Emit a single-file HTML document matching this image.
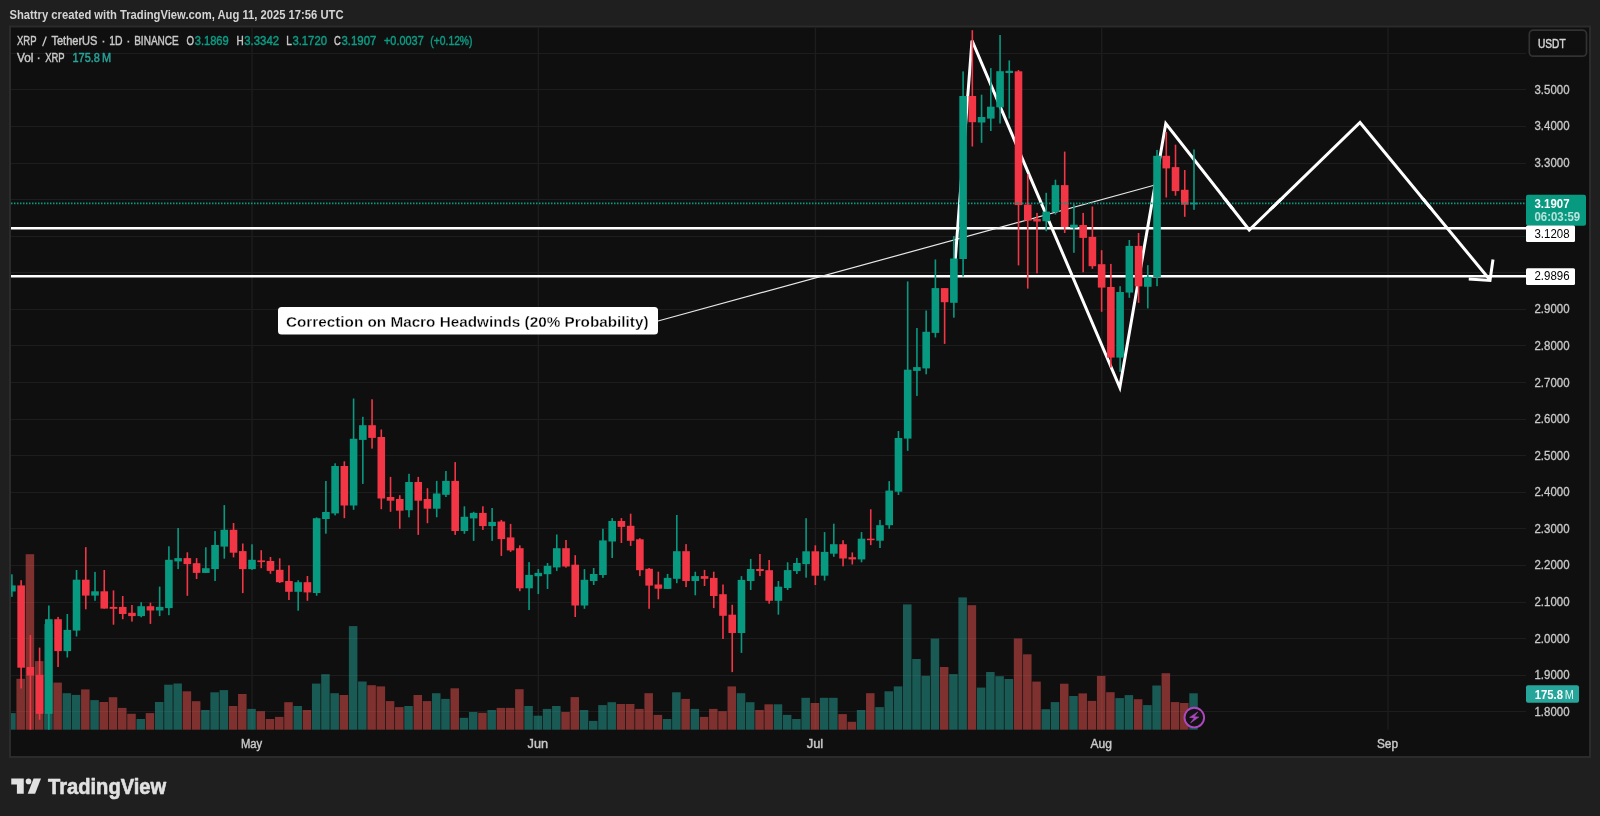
<!DOCTYPE html>
<html><head><meta charset="utf-8"><title>XRP / TetherUS chart</title>
<style>html,body{margin:0;padding:0;background:#1f1f1f;overflow:hidden}body{width:1600px;height:816px;position:relative;font-family:"Liberation Sans",sans-serif}</style></head>
<body>
<svg width="1600" height="816" viewBox="0 0 1600 816" style="position:absolute;left:0;top:0;display:block;filter:blur(0.35px)" font-family="Liberation Sans, sans-serif">
<defs><clipPath id="pane"><rect x="11" y="27.5" width="1515" height="702.2"/></clipPath></defs>
<rect x="0" y="0" width="1600" height="816" fill="#1f1f1f"/>
<rect x="9" y="25.5" width="1582" height="732.5" fill="#2b2b2b"/>
<rect x="11" y="27.5" width="1578" height="728.5" fill="#0f0f0f"/>
<g fill="#1d1d1d"><rect x="11" y="53" width="1515" height="1"/><rect x="11" y="89" width="1515" height="1"/><rect x="11" y="126" width="1515" height="1"/><rect x="11" y="163" width="1515" height="1"/><rect x="11" y="199" width="1515" height="1"/><rect x="11" y="236" width="1515" height="1"/><rect x="11" y="272" width="1515" height="1"/><rect x="11" y="309" width="1515" height="1"/><rect x="11" y="345" width="1515" height="1"/><rect x="11" y="382" width="1515" height="1"/><rect x="11" y="419" width="1515" height="1"/><rect x="11" y="455" width="1515" height="1"/><rect x="11" y="492" width="1515" height="1"/><rect x="11" y="528" width="1515" height="1"/><rect x="11" y="565" width="1515" height="1"/><rect x="11" y="602" width="1515" height="1"/><rect x="11" y="638" width="1515" height="1"/><rect x="11" y="675" width="1515" height="1"/><rect x="11" y="711" width="1515" height="1"/><rect x="251.41" y="27.5" width="1.4" height="702.2"/><rect x="537.69" y="27.5" width="1.4" height="702.2"/><rect x="814.74" y="27.5" width="1.4" height="702.2"/><rect x="1101.03" y="27.5" width="1.4" height="702.2"/><rect x="1387.31" y="27.5" width="1.4" height="702.2"/></g>
<g fill="rgba(38,166,154,0.5)"><rect x="11.00" y="713.1" width="4.70" height="16.6"/><rect x="44.14" y="624.0" width="8.50" height="105.7"/><rect x="62.61" y="693.2" width="8.50" height="36.5"/><rect x="71.84" y="694.9" width="8.50" height="34.8"/><rect x="90.31" y="700.1" width="8.50" height="29.6"/><rect x="136.49" y="719.0" width="8.50" height="10.7"/><rect x="154.96" y="702.0" width="8.50" height="27.7"/><rect x="164.19" y="684.7" width="8.50" height="45.0"/><rect x="173.43" y="683.5" width="8.50" height="46.2"/><rect x="201.13" y="710.0" width="8.50" height="19.7"/><rect x="210.37" y="692.3" width="8.50" height="37.4"/><rect x="219.60" y="690.1" width="8.50" height="39.6"/><rect x="247.31" y="708.9" width="8.50" height="20.8"/><rect x="293.48" y="706.0" width="8.50" height="23.7"/><rect x="311.95" y="683.6" width="8.50" height="46.1"/><rect x="321.19" y="674.2" width="8.50" height="55.5"/><rect x="330.42" y="693.2" width="8.50" height="36.5"/><rect x="348.89" y="626.1" width="8.50" height="103.6"/><rect x="358.13" y="681.5" width="8.50" height="48.2"/><rect x="404.30" y="706.0" width="8.50" height="23.7"/><rect x="432.01" y="693.2" width="8.50" height="36.5"/><rect x="441.24" y="698.9" width="8.50" height="30.8"/><rect x="459.71" y="717.8" width="8.50" height="11.9"/><rect x="468.95" y="712.0" width="8.50" height="17.7"/><rect x="487.42" y="710.0" width="8.50" height="19.7"/><rect x="524.36" y="706.0" width="8.50" height="23.7"/><rect x="533.60" y="715.7" width="8.50" height="14.0"/><rect x="542.83" y="708.9" width="8.50" height="20.8"/><rect x="552.07" y="706.0" width="8.50" height="23.7"/><rect x="579.77" y="710.0" width="8.50" height="19.7"/><rect x="589.00" y="720.9" width="8.50" height="8.8"/><rect x="598.24" y="705.1" width="8.50" height="24.6"/><rect x="607.48" y="702.2" width="8.50" height="27.5"/><rect x="662.88" y="719.0" width="8.50" height="10.7"/><rect x="672.12" y="692.3" width="8.50" height="37.4"/><rect x="690.59" y="708.9" width="8.50" height="20.8"/><rect x="736.76" y="693.2" width="8.50" height="36.5"/><rect x="746.00" y="702.2" width="8.50" height="27.5"/><rect x="773.71" y="704.3" width="8.50" height="25.4"/><rect x="782.94" y="714.9" width="8.50" height="14.8"/><rect x="792.17" y="719.0" width="8.50" height="10.7"/><rect x="801.41" y="697.8" width="8.50" height="31.9"/><rect x="819.88" y="697.8" width="8.50" height="31.9"/><rect x="829.12" y="697.8" width="8.50" height="31.9"/><rect x="856.82" y="710.0" width="8.50" height="19.7"/><rect x="875.29" y="707.1" width="8.50" height="22.6"/><rect x="884.52" y="691.3" width="8.50" height="38.4"/><rect x="893.76" y="686.4" width="8.50" height="43.3"/><rect x="903.00" y="604.4" width="8.50" height="125.3"/><rect x="912.23" y="659.0" width="8.50" height="70.7"/><rect x="921.47" y="675.8" width="8.50" height="53.9"/><rect x="930.70" y="638.6" width="8.50" height="91.1"/><rect x="949.17" y="674.1" width="8.50" height="55.6"/><rect x="958.40" y="597.4" width="8.50" height="132.3"/><rect x="976.88" y="687.6" width="8.50" height="42.1"/><rect x="986.11" y="672.0" width="8.50" height="57.7"/><rect x="995.35" y="676.2" width="8.50" height="53.5"/><rect x="1004.58" y="679.0" width="8.50" height="50.7"/><rect x="1041.52" y="709.2" width="8.50" height="20.5"/><rect x="1050.75" y="702.1" width="8.50" height="27.6"/><rect x="1069.22" y="696.0" width="8.50" height="33.7"/><rect x="1115.40" y="698.1" width="8.50" height="31.6"/><rect x="1124.63" y="695.1" width="8.50" height="34.6"/><rect x="1143.11" y="705.1" width="8.50" height="24.6"/><rect x="1152.34" y="685.5" width="8.50" height="44.2"/><rect x="1189.28" y="693.3" width="8.50" height="36.4"/></g>
<g fill="rgba(239,83,80,0.5)"><rect x="16.43" y="678.8" width="8.50" height="50.9"/><rect x="25.67" y="554.2" width="8.50" height="175.5"/><rect x="34.91" y="661.1" width="8.50" height="68.6"/><rect x="53.38" y="682.6" width="8.50" height="47.1"/><rect x="81.08" y="689.4" width="8.50" height="40.3"/><rect x="99.55" y="702.0" width="8.50" height="27.7"/><rect x="108.78" y="697.2" width="8.50" height="32.5"/><rect x="118.02" y="707.9" width="8.50" height="21.8"/><rect x="127.26" y="713.8" width="8.50" height="15.9"/><rect x="145.72" y="713.1" width="8.50" height="16.6"/><rect x="182.66" y="691.3" width="8.50" height="38.4"/><rect x="191.90" y="701.2" width="8.50" height="28.5"/><rect x="228.84" y="706.0" width="8.50" height="23.7"/><rect x="238.07" y="694.0" width="8.50" height="35.7"/><rect x="256.54" y="711.2" width="8.50" height="18.5"/><rect x="265.78" y="719.0" width="8.50" height="10.7"/><rect x="275.01" y="716.9" width="8.50" height="12.8"/><rect x="284.25" y="702.2" width="8.50" height="27.5"/><rect x="302.72" y="710.0" width="8.50" height="19.7"/><rect x="339.66" y="695.0" width="8.50" height="34.7"/><rect x="367.36" y="685.2" width="8.50" height="44.5"/><rect x="376.60" y="686.4" width="8.50" height="43.3"/><rect x="385.83" y="701.1" width="8.50" height="28.6"/><rect x="395.07" y="707.1" width="8.50" height="22.6"/><rect x="413.54" y="695.0" width="8.50" height="34.7"/><rect x="422.77" y="701.1" width="8.50" height="28.6"/><rect x="450.48" y="688.3" width="8.50" height="41.4"/><rect x="478.18" y="712.8" width="8.50" height="16.9"/><rect x="496.65" y="707.9" width="8.50" height="21.8"/><rect x="505.89" y="707.9" width="8.50" height="21.8"/><rect x="515.12" y="689.2" width="8.50" height="40.5"/><rect x="561.30" y="712.0" width="8.50" height="17.7"/><rect x="570.53" y="697.1" width="8.50" height="32.6"/><rect x="616.71" y="704.0" width="8.50" height="25.7"/><rect x="625.95" y="704.0" width="8.50" height="25.7"/><rect x="635.18" y="708.9" width="8.50" height="20.8"/><rect x="644.41" y="693.2" width="8.50" height="36.5"/><rect x="653.65" y="714.9" width="8.50" height="14.8"/><rect x="681.36" y="698.9" width="8.50" height="30.8"/><rect x="699.83" y="716.9" width="8.50" height="12.8"/><rect x="709.06" y="708.9" width="8.50" height="20.8"/><rect x="718.29" y="711.2" width="8.50" height="18.5"/><rect x="727.53" y="686.4" width="8.50" height="43.3"/><rect x="755.24" y="710.0" width="8.50" height="19.7"/><rect x="764.47" y="704.3" width="8.50" height="25.4"/><rect x="810.64" y="703.0" width="8.50" height="26.7"/><rect x="838.35" y="714.1" width="8.50" height="15.6"/><rect x="847.59" y="721.8" width="8.50" height="7.9"/><rect x="866.05" y="693.2" width="8.50" height="36.5"/><rect x="939.93" y="667.0" width="8.50" height="62.7"/><rect x="967.64" y="605.2" width="8.50" height="124.5"/><rect x="1013.81" y="638.5" width="8.50" height="91.2"/><rect x="1023.05" y="654.3" width="8.50" height="75.4"/><rect x="1032.29" y="681.6" width="8.50" height="48.1"/><rect x="1059.99" y="683.7" width="8.50" height="46.0"/><rect x="1078.46" y="693.4" width="8.50" height="36.3"/><rect x="1087.69" y="700.9" width="8.50" height="28.8"/><rect x="1096.93" y="675.9" width="8.50" height="53.8"/><rect x="1106.16" y="692.2" width="8.50" height="37.5"/><rect x="1133.87" y="699.2" width="8.50" height="30.5"/><rect x="1161.58" y="673.2" width="8.50" height="56.5"/><rect x="1170.81" y="702.1" width="8.50" height="27.6"/><rect x="1180.05" y="703.0" width="8.50" height="26.7"/></g>
<g stroke="#ffffff" fill="none" stroke-linecap="butt">
<line x1="11" y1="228.25" x2="1526" y2="228.25" stroke-width="2.5"/>
<line x1="11" y1="276.25" x2="1526" y2="276.25" stroke-width="2.5"/>
<line x1="658" y1="321" x2="1155" y2="185" stroke-width="1.2" stroke="#e8e8e8"/>
<polyline points="954,276 972,40.5 1119.8,387.5 1165.8,123.5 1249.25,230 1360,122.5 1490,280" stroke-width="3" stroke-linejoin="miter"/>
<polyline points="1493,259.5 1490,280.5 1468.75,279" stroke-width="3" stroke-linejoin="miter"/>
</g>
<g clip-path="url(#pane)"><g fill="#f23645"><rect x="20.33" y="580.2" width="1.6" height="108.3"/><rect x="29.57" y="635.0" width="1.6" height="95.0"/><rect x="38.80" y="647.6" width="1.6" height="72.1"/><rect x="57.27" y="616.9" width="1.6" height="50.1"/><rect x="84.98" y="547.1" width="1.6" height="62.2"/><rect x="103.45" y="570.0" width="1.6" height="38.6"/><rect x="112.69" y="590.4" width="1.6" height="34.3"/><rect x="121.92" y="596.0" width="1.6" height="23.2"/><rect x="131.16" y="605.0" width="1.6" height="16.6"/><rect x="149.62" y="602.7" width="1.6" height="21.2"/><rect x="186.56" y="552.3" width="1.6" height="43.5"/><rect x="195.80" y="558.1" width="1.6" height="20.9"/><rect x="232.74" y="523.0" width="1.6" height="34.4"/><rect x="241.97" y="543.5" width="1.6" height="49.6"/><rect x="260.44" y="550.2" width="1.6" height="18.0"/><rect x="269.68" y="557.0" width="1.6" height="16.8"/><rect x="278.91" y="558.3" width="1.6" height="24.7"/><rect x="288.15" y="565.3" width="1.6" height="34.7"/><rect x="306.62" y="576.0" width="1.6" height="24.8"/><rect x="343.56" y="461.3" width="1.6" height="56.9"/><rect x="371.26" y="399.3" width="1.6" height="49.3"/><rect x="380.50" y="429.5" width="1.6" height="79.7"/><rect x="389.73" y="476.9" width="1.6" height="34.9"/><rect x="398.97" y="495.2" width="1.6" height="33.6"/><rect x="417.44" y="476.9" width="1.6" height="58.0"/><rect x="426.67" y="488.2" width="1.6" height="35.0"/><rect x="454.38" y="462.1" width="1.6" height="72.8"/><rect x="482.08" y="506.3" width="1.6" height="23.6"/><rect x="500.55" y="519.9" width="1.6" height="36.0"/><rect x="509.79" y="523.9" width="1.6" height="28.0"/><rect x="519.02" y="545.3" width="1.6" height="45.9"/><rect x="565.20" y="540.0" width="1.6" height="27.6"/><rect x="574.43" y="555.2" width="1.6" height="61.8"/><rect x="620.61" y="518.1" width="1.6" height="24.9"/><rect x="629.85" y="513.7" width="1.6" height="32.2"/><rect x="639.08" y="538.2" width="1.6" height="37.9"/><rect x="648.31" y="568.0" width="1.6" height="40.8"/><rect x="657.55" y="571.7" width="1.6" height="27.6"/><rect x="685.25" y="544.1" width="1.6" height="43.0"/><rect x="703.73" y="569.9" width="1.6" height="16.1"/><rect x="712.96" y="571.7" width="1.6" height="36.4"/><rect x="722.19" y="584.5" width="1.6" height="54.5"/><rect x="731.43" y="604.8" width="1.6" height="67.3"/><rect x="759.13" y="554.0" width="1.6" height="22.1"/><rect x="768.37" y="560.0" width="1.6" height="43.7"/><rect x="814.54" y="545.3" width="1.6" height="39.7"/><rect x="842.25" y="540.2" width="1.6" height="26.1"/><rect x="851.49" y="552.4" width="1.6" height="12.1"/><rect x="869.95" y="509.3" width="1.6" height="35.8"/><rect x="943.83" y="288.1" width="1.6" height="55.8"/><rect x="971.54" y="30.2" width="1.6" height="116.3"/><rect x="1017.71" y="70.0" width="1.6" height="195.4"/><rect x="1026.95" y="174.3" width="1.6" height="114.3"/><rect x="1036.19" y="212.9" width="1.6" height="60.4"/><rect x="1063.89" y="151.6" width="1.6" height="81.4"/><rect x="1082.36" y="212.9" width="1.6" height="59.4"/><rect x="1091.60" y="206.5" width="1.6" height="62.3"/><rect x="1100.83" y="250.2" width="1.6" height="61.6"/><rect x="1110.07" y="263.9" width="1.6" height="103.6"/><rect x="1137.77" y="233.0" width="1.6" height="69.8"/><rect x="1165.48" y="131.9" width="1.6" height="65.6"/><rect x="1174.71" y="144.7" width="1.6" height="51.0"/><rect x="1183.95" y="170.0" width="1.6" height="46.8"/><rect x="17.33" y="585.4" width="7.60" height="82.3"/><rect x="26.57" y="667.0" width="7.60" height="8.5"/><rect x="35.80" y="674.8" width="7.60" height="39.0"/><rect x="54.27" y="619.2" width="7.60" height="31.9"/><rect x="81.98" y="579.7" width="7.60" height="15.9"/><rect x="100.45" y="591.3" width="7.60" height="17.3"/><rect x="109.69" y="606.9" width="7.60" height="1.9"/><rect x="118.92" y="606.9" width="7.60" height="7.1"/><rect x="128.16" y="612.8" width="7.60" height="3.3"/><rect x="146.62" y="606.2" width="7.60" height="4.3"/><rect x="183.56" y="558.1" width="7.60" height="6.0"/><rect x="192.80" y="563.2" width="7.60" height="9.7"/><rect x="229.74" y="529.8" width="7.60" height="22.9"/><rect x="238.97" y="551.1" width="7.60" height="18.0"/><rect x="257.44" y="560.4" width="7.60" height="1.7"/><rect x="266.68" y="561.0" width="7.60" height="9.9"/><rect x="275.91" y="569.8" width="7.60" height="12.4"/><rect x="285.15" y="581.0" width="7.60" height="10.8"/><rect x="303.62" y="582.2" width="7.60" height="10.2"/><rect x="340.56" y="466.0" width="7.60" height="39.5"/><rect x="368.26" y="425.2" width="7.60" height="12.7"/><rect x="377.50" y="437.0" width="7.60" height="61.5"/><rect x="386.73" y="497.0" width="7.60" height="3.7"/><rect x="395.97" y="499.0" width="7.60" height="11.7"/><rect x="414.44" y="482.0" width="7.60" height="18.7"/><rect x="423.67" y="499.0" width="7.60" height="9.7"/><rect x="451.38" y="480.9" width="7.60" height="50.1"/><rect x="479.08" y="512.9" width="7.60" height="13.2"/><rect x="497.55" y="521.5" width="7.60" height="17.6"/><rect x="506.79" y="537.4" width="7.60" height="13.0"/><rect x="516.02" y="548.2" width="7.60" height="40.1"/><rect x="562.20" y="548.2" width="7.60" height="18.3"/><rect x="571.43" y="564.7" width="7.60" height="40.8"/><rect x="617.61" y="521.0" width="7.60" height="5.9"/><rect x="626.85" y="525.8" width="7.60" height="15.0"/><rect x="636.08" y="539.3" width="7.60" height="30.9"/><rect x="645.31" y="568.8" width="7.60" height="16.8"/><rect x="654.55" y="584.5" width="7.60" height="4.2"/><rect x="682.25" y="551.2" width="7.60" height="29.8"/><rect x="700.73" y="576.1" width="7.60" height="2.7"/><rect x="709.96" y="577.9" width="7.60" height="18.1"/><rect x="719.19" y="594.2" width="7.60" height="21.6"/><rect x="728.43" y="614.7" width="7.60" height="18.3"/><rect x="756.13" y="569.0" width="7.60" height="2.0"/><rect x="765.37" y="570.2" width="7.60" height="30.6"/><rect x="811.54" y="551.3" width="7.60" height="24.4"/><rect x="839.25" y="544.2" width="7.60" height="14.3"/><rect x="848.49" y="557.2" width="7.60" height="2.2"/><rect x="866.95" y="538.7" width="7.60" height="1.5"/><rect x="940.83" y="288.1" width="7.60" height="14.1"/><rect x="968.54" y="96.0" width="7.60" height="26.2"/><rect x="1014.71" y="71.3" width="7.60" height="133.8"/><rect x="1023.95" y="204.6" width="7.60" height="16.0"/><rect x="1033.19" y="219.0" width="7.60" height="2.5"/><rect x="1060.89" y="185.1" width="7.60" height="41.9"/><rect x="1079.36" y="225.0" width="7.60" height="12.9"/><rect x="1088.60" y="236.9" width="7.60" height="29.3"/><rect x="1097.83" y="264.2" width="7.60" height="23.4"/><rect x="1107.07" y="287.0" width="7.60" height="70.6"/><rect x="1134.77" y="245.9" width="7.60" height="40.5"/><rect x="1162.48" y="155.8" width="7.60" height="12.6"/><rect x="1171.71" y="167.1" width="7.60" height="24.0"/><rect x="1180.95" y="189.8" width="7.60" height="14.9"/></g><g fill="#089981"><rect x="11.10" y="574.3" width="1.6" height="22.5"/><rect x="48.04" y="605.5" width="1.6" height="124.5"/><rect x="66.51" y="614.0" width="1.6" height="43.5"/><rect x="75.75" y="570.0" width="1.6" height="66.5"/><rect x="94.22" y="571.9" width="1.6" height="28.9"/><rect x="140.39" y="602.2" width="1.6" height="15.1"/><rect x="158.86" y="586.6" width="1.6" height="29.5"/><rect x="168.09" y="546.3" width="1.6" height="68.9"/><rect x="177.33" y="528.0" width="1.6" height="41.1"/><rect x="205.03" y="547.3" width="1.6" height="25.6"/><rect x="214.27" y="531.1" width="1.6" height="49.9"/><rect x="223.50" y="505.1" width="1.6" height="53.6"/><rect x="251.21" y="544.3" width="1.6" height="25.6"/><rect x="297.38" y="580.3" width="1.6" height="30.4"/><rect x="315.85" y="517.4" width="1.6" height="78.3"/><rect x="325.09" y="481.0" width="1.6" height="52.7"/><rect x="334.32" y="463.3" width="1.6" height="52.1"/><rect x="352.79" y="398.5" width="1.6" height="111.3"/><rect x="362.03" y="416.8" width="1.6" height="67.1"/><rect x="408.20" y="473.8" width="1.6" height="43.5"/><rect x="435.91" y="480.9" width="1.6" height="36.4"/><rect x="445.14" y="471.0" width="1.6" height="26.0"/><rect x="463.61" y="506.3" width="1.6" height="27.5"/><rect x="472.85" y="511.8" width="1.6" height="29.1"/><rect x="491.32" y="508.0" width="1.6" height="32.9"/><rect x="528.26" y="562.1" width="1.6" height="47.9"/><rect x="537.50" y="569.1" width="1.6" height="25.0"/><rect x="546.73" y="563.0" width="1.6" height="26.0"/><rect x="555.97" y="534.5" width="1.6" height="36.4"/><rect x="583.67" y="569.1" width="1.6" height="39.7"/><rect x="592.90" y="568.0" width="1.6" height="17.0"/><rect x="602.14" y="528.7" width="1.6" height="49.2"/><rect x="611.38" y="518.1" width="1.6" height="39.9"/><rect x="666.78" y="573.9" width="1.6" height="15.0"/><rect x="676.02" y="515.0" width="1.6" height="68.2"/><rect x="694.49" y="571.7" width="1.6" height="23.6"/><rect x="740.66" y="576.1" width="1.6" height="76.8"/><rect x="749.90" y="558.9" width="1.6" height="31.1"/><rect x="777.61" y="581.0" width="1.6" height="33.7"/><rect x="786.84" y="562.3" width="1.6" height="27.7"/><rect x="796.07" y="557.9" width="1.6" height="16.1"/><rect x="805.31" y="518.2" width="1.6" height="59.5"/><rect x="823.78" y="532.1" width="1.6" height="48.5"/><rect x="833.01" y="523.7" width="1.6" height="33.1"/><rect x="860.72" y="532.1" width="1.6" height="30.2"/><rect x="879.19" y="519.9" width="1.6" height="28.1"/><rect x="888.42" y="481.1" width="1.6" height="47.7"/><rect x="897.66" y="431.0" width="1.6" height="64.0"/><rect x="906.89" y="281.4" width="1.6" height="169.4"/><rect x="916.13" y="328.0" width="1.6" height="67.9"/><rect x="925.37" y="310.5" width="1.6" height="63.8"/><rect x="934.60" y="259.5" width="1.6" height="78.0"/><rect x="953.07" y="236.0" width="1.6" height="81.7"/><rect x="962.30" y="71.4" width="1.6" height="205.1"/><rect x="980.77" y="94.7" width="1.6" height="48.1"/><rect x="990.01" y="68.1" width="1.6" height="62.9"/><rect x="999.25" y="35.0" width="1.6" height="88.5"/><rect x="1008.48" y="60.4" width="1.6" height="58.2"/><rect x="1045.42" y="192.8" width="1.6" height="38.4"/><rect x="1054.65" y="179.7" width="1.6" height="34.8"/><rect x="1073.12" y="204.2" width="1.6" height="48.6"/><rect x="1119.30" y="286.2" width="1.6" height="85.6"/><rect x="1128.54" y="240.0" width="1.6" height="57.8"/><rect x="1147.01" y="265.2" width="1.6" height="43.2"/><rect x="1156.24" y="149.9" width="1.6" height="136.3"/><rect x="1193.18" y="149.4" width="1.6" height="60.4"/><rect x="11.00" y="585.4" width="4.70" height="6.1"/><rect x="45.04" y="619.2" width="7.60" height="94.6"/><rect x="63.51" y="629.9" width="7.60" height="21.2"/><rect x="72.75" y="579.7" width="7.60" height="50.9"/><rect x="91.22" y="591.3" width="7.60" height="4.3"/><rect x="137.39" y="606.2" width="7.60" height="9.9"/><rect x="155.86" y="606.9" width="7.60" height="3.6"/><rect x="165.09" y="559.8" width="7.60" height="48.3"/><rect x="174.33" y="558.1" width="7.60" height="3.3"/><rect x="202.03" y="568.2" width="7.60" height="4.7"/><rect x="211.27" y="545.0" width="7.60" height="24.1"/><rect x="220.50" y="529.8" width="7.60" height="16.8"/><rect x="248.21" y="559.8" width="7.60" height="9.3"/><rect x="294.38" y="582.2" width="7.60" height="9.6"/><rect x="312.85" y="518.2" width="7.60" height="74.8"/><rect x="322.09" y="512.0" width="7.60" height="7.0"/><rect x="331.32" y="466.0" width="7.60" height="47.4"/><rect x="349.79" y="438.8" width="7.60" height="66.7"/><rect x="359.03" y="425.2" width="7.60" height="14.7"/><rect x="405.20" y="482.0" width="7.60" height="28.2"/><rect x="432.91" y="493.5" width="7.60" height="15.2"/><rect x="442.14" y="480.9" width="7.60" height="13.9"/><rect x="460.61" y="516.8" width="7.60" height="14.2"/><rect x="469.85" y="512.9" width="7.60" height="5.5"/><rect x="488.32" y="521.9" width="7.60" height="4.2"/><rect x="525.26" y="574.9" width="7.60" height="13.4"/><rect x="534.50" y="572.9" width="7.60" height="3.3"/><rect x="543.73" y="565.8" width="7.60" height="8.4"/><rect x="552.97" y="548.2" width="7.60" height="19.2"/><rect x="580.67" y="579.8" width="7.60" height="25.7"/><rect x="589.90" y="574.0" width="7.60" height="7.0"/><rect x="599.14" y="540.4" width="7.60" height="34.6"/><rect x="608.38" y="521.0" width="7.60" height="20.5"/><rect x="663.78" y="577.9" width="7.60" height="11.0"/><rect x="673.02" y="551.2" width="7.60" height="27.6"/><rect x="691.49" y="576.1" width="7.60" height="4.9"/><rect x="737.66" y="579.9" width="7.60" height="53.1"/><rect x="746.90" y="569.0" width="7.60" height="12.0"/><rect x="774.61" y="586.7" width="7.60" height="14.1"/><rect x="783.84" y="570.1" width="7.60" height="17.9"/><rect x="793.07" y="563.0" width="7.60" height="8.1"/><rect x="802.31" y="551.3" width="7.60" height="12.8"/><rect x="820.78" y="551.9" width="7.60" height="23.8"/><rect x="830.01" y="544.2" width="7.60" height="9.5"/><rect x="857.72" y="538.7" width="7.60" height="20.7"/><rect x="876.19" y="525.2" width="7.60" height="15.5"/><rect x="885.42" y="490.6" width="7.60" height="34.6"/><rect x="894.66" y="438.0" width="7.60" height="53.7"/><rect x="903.89" y="369.7" width="7.60" height="68.9"/><rect x="913.13" y="367.1" width="7.60" height="3.8"/><rect x="922.37" y="331.8" width="7.60" height="36.6"/><rect x="931.60" y="288.1" width="7.60" height="44.8"/><rect x="950.07" y="258.5" width="7.60" height="44.3"/><rect x="959.30" y="96.0" width="7.60" height="163.0"/><rect x="977.77" y="117.0" width="7.60" height="5.5"/><rect x="987.01" y="106.7" width="7.60" height="11.9"/><rect x="996.25" y="71.2" width="7.60" height="36.1"/><rect x="1005.48" y="70.8" width="7.60" height="2.2"/><rect x="1042.42" y="211.6" width="7.60" height="9.6"/><rect x="1051.65" y="185.1" width="7.60" height="26.9"/><rect x="1070.12" y="224.7" width="7.60" height="3.0"/><rect x="1116.30" y="292.0" width="7.60" height="65.6"/><rect x="1125.54" y="245.9" width="7.60" height="46.7"/><rect x="1144.01" y="276.8" width="7.60" height="10.0"/><rect x="1153.24" y="155.8" width="7.60" height="121.3"/><rect x="1190.18" y="202.6" width="7.60" height="1.8"/></g></g>
<line x1="11" y1="203.3" x2="1526" y2="203.3" stroke="#089981" stroke-width="1.8" stroke-dasharray="1.5 1.5"/>
<defs><clipPath id="xover"><rect x="1205" y="198" width="300" height="11"/></clipPath></defs>
<polyline clip-path="url(#xover)" points="1165.8,123.5 1249.25,230 1360,122.5 1490,280" stroke="#fff" fill="none" stroke-width="3"/>
<circle cx="1194.3" cy="717.6" r="9.8" fill="#131313" stroke="#ad48c2" stroke-width="1.9"/>
<polygon points="1197.8,711.9 1189.6,717.4 1194.3,717.95 1190.5,722.9 1198.8,717.1 1194.1,716.7" fill="#ad48c2" stroke="#ad48c2" stroke-width="0.6" stroke-linejoin="round"/>
<rect x="278" y="307" width="380" height="27.5" rx="3.5" fill="#ffffff"/>
<text x="286" y="327" font-size="14" font-weight="bold" fill="#000" stroke="#fff" stroke-width="0.3" textLength="362.5" lengthAdjust="spacingAndGlyphs">Correction on Macro Headwinds (20% Probability)</text>
<g font-size="12" fill="#c9c9c9" stroke="#c9c9c9" stroke-width="0.3"><text x="1534.5" y="93.8" textLength="35" lengthAdjust="spacingAndGlyphs">3.5000</text><text x="1534.5" y="130.4" textLength="35" lengthAdjust="spacingAndGlyphs">3.4000</text><text x="1534.5" y="167.0" textLength="35" lengthAdjust="spacingAndGlyphs">3.3000</text><text x="1534.5" y="313.3" textLength="35" lengthAdjust="spacingAndGlyphs">2.9000</text><text x="1534.5" y="349.9" textLength="35" lengthAdjust="spacingAndGlyphs">2.8000</text><text x="1534.5" y="386.5" textLength="35" lengthAdjust="spacingAndGlyphs">2.7000</text><text x="1534.5" y="423.1" textLength="35" lengthAdjust="spacingAndGlyphs">2.6000</text><text x="1534.5" y="459.7" textLength="35" lengthAdjust="spacingAndGlyphs">2.5000</text><text x="1534.5" y="496.3" textLength="35" lengthAdjust="spacingAndGlyphs">2.4000</text><text x="1534.5" y="532.9" textLength="35" lengthAdjust="spacingAndGlyphs">2.3000</text><text x="1534.5" y="569.4" textLength="35" lengthAdjust="spacingAndGlyphs">2.2000</text><text x="1534.5" y="606.0" textLength="35" lengthAdjust="spacingAndGlyphs">2.1000</text><text x="1534.5" y="642.6" textLength="35" lengthAdjust="spacingAndGlyphs">2.0000</text><text x="1534.5" y="679.2" textLength="35" lengthAdjust="spacingAndGlyphs">1.9000</text><text x="1534.5" y="715.8" textLength="35" lengthAdjust="spacingAndGlyphs">1.8000</text></g>
<rect x="1526" y="194.7" width="60" height="31" rx="2" fill="#089981"/>
<text x="1534.5" y="207.5" font-size="12" font-weight="bold" fill="#fff" textLength="35" lengthAdjust="spacingAndGlyphs">3.1907</text>
<text x="1534.5" y="221.4" font-size="12" font-weight="bold" fill="#b9e3dc" textLength="45.7" lengthAdjust="spacingAndGlyphs">06:03:59</text>
<rect x="1526" y="225.5" width="49" height="16.5" rx="1.5" fill="#ffffff"/>
<text x="1534.5" y="237.6" font-size="12" fill="#000" textLength="35" lengthAdjust="spacingAndGlyphs">3.1208</text>
<rect x="1526" y="268.2" width="49" height="16.8" rx="1.5" fill="#ffffff"/>
<text x="1534.5" y="280.4" font-size="12" fill="#000" textLength="35" lengthAdjust="spacingAndGlyphs">2.9896</text>
<rect x="1526" y="685.3" width="53" height="17.4" rx="2" fill="#26a69a"/>
<text x="1534.7" y="699" font-size="12" font-weight="bold" fill="#fff" textLength="28.3" lengthAdjust="spacingAndGlyphs">175.8</text>
<text x="1564.8" y="699" font-size="12" fill="#e9f6f4" textLength="9.1" lengthAdjust="spacingAndGlyphs">M</text>
<rect x="1529.3" y="30.2" width="57.2" height="26" rx="4" fill="#0f0f0f" stroke="#323232" stroke-width="1.7"/>
<text x="1538" y="48" font-size="12" fill="#d6d6d6" stroke="#d6d6d6" stroke-width="0.45" textLength="27.6" lengthAdjust="spacingAndGlyphs">USDT</text>
<g font-size="12" fill="#c9c9c9" stroke="#c9c9c9" stroke-width="0.4"><text x="241.0" y="748" textLength="21.2" lengthAdjust="spacingAndGlyphs">May</text><text x="527.6" y="748" textLength="20.5" lengthAdjust="spacingAndGlyphs">Jun</text><text x="806.7" y="748" textLength="16.5" lengthAdjust="spacingAndGlyphs">Jul</text><text x="1090.5" y="748" textLength="21.5" lengthAdjust="spacingAndGlyphs">Aug</text><text x="1377.0" y="748" textLength="21" lengthAdjust="spacingAndGlyphs">Sep</text></g>
<text x="9.5" y="19.2" font-size="12" font-weight="bold" fill="#d4d4d4" textLength="334" lengthAdjust="spacingAndGlyphs">Shattry created with TradingView.com, Aug 11, 2025 17:56 UTC</text>
<g font-size="12">
<text x="17" y="44.9" fill="#c9c9c9" stroke="#c9c9c9" stroke-width="0.42" textLength="19.5" lengthAdjust="spacingAndGlyphs">XRP</text>
<line x1="42.6" y1="46.3" x2="46.3" y2="36.4" stroke="#c9c9c9" stroke-width="1.3"/>
<text x="51.4" y="44.9" fill="#c9c9c9" stroke="#c9c9c9" stroke-width="0.42" textLength="46.1" lengthAdjust="spacingAndGlyphs">TetherUS</text>
<rect x="102.6" y="40.7" width="1.7" height="1.8" fill="#c9c9c9"/>
<text x="109.2" y="44.9" fill="#c9c9c9" stroke="#c9c9c9" stroke-width="0.42" textLength="13.3" lengthAdjust="spacingAndGlyphs">1D</text>
<rect x="127.5" y="40.7" width="1.7" height="1.8" fill="#c9c9c9"/>
<text x="134.2" y="44.9" fill="#c9c9c9" stroke="#c9c9c9" stroke-width="0.42" textLength="44.5" lengthAdjust="spacingAndGlyphs">BINANCE</text>
<text x="186.6" y="44.9" fill="#c9c9c9" stroke="#c9c9c9" stroke-width="0.42" textLength="7.5" lengthAdjust="spacingAndGlyphs">O</text>
<text x="194.7" y="44.9" fill="#0c9c84" stroke="#0c9c84" stroke-width="0.42" textLength="34.05" lengthAdjust="spacingAndGlyphs">3.1869</text>
<text x="236.5" y="44.9" fill="#c9c9c9" stroke="#c9c9c9" stroke-width="0.42" textLength="7.2" lengthAdjust="spacingAndGlyphs">H</text>
<text x="244.3" y="44.9" fill="#0c9c84" stroke="#0c9c84" stroke-width="0.42" textLength="34.8" lengthAdjust="spacingAndGlyphs">3.3342</text>
<text x="286.2" y="44.9" fill="#c9c9c9" stroke="#c9c9c9" stroke-width="0.42" textLength="5.6" lengthAdjust="spacingAndGlyphs">L</text>
<text x="292.4" y="44.9" fill="#0c9c84" stroke="#0c9c84" stroke-width="0.42" textLength="34.6" lengthAdjust="spacingAndGlyphs">3.1720</text>
<text x="334.1" y="44.9" fill="#c9c9c9" stroke="#c9c9c9" stroke-width="0.42" textLength="6.8" lengthAdjust="spacingAndGlyphs">C</text>
<text x="341.5" y="44.9" fill="#0c9c84" stroke="#0c9c84" stroke-width="0.42" textLength="34.8" lengthAdjust="spacingAndGlyphs">3.1907</text>
<text x="384" y="44.9" fill="#0c9c84" stroke="#0c9c84" stroke-width="0.42" textLength="39.7" lengthAdjust="spacingAndGlyphs">+0.0037</text>
<text x="430.3" y="44.9" fill="#0c9c84" stroke="#0c9c84" stroke-width="0.42" textLength="42.2" lengthAdjust="spacingAndGlyphs">(+0.12%)</text>
<text x="17" y="61.6" fill="#c9c9c9" stroke="#c9c9c9" stroke-width="0.42" textLength="16.4" lengthAdjust="spacingAndGlyphs">Vol</text>
<rect x="37.8" y="57.4" width="1.7" height="1.8" fill="#c9c9c9"/>
<text x="45.2" y="61.6" fill="#c9c9c9" stroke="#c9c9c9" stroke-width="0.42" textLength="19.5" lengthAdjust="spacingAndGlyphs">XRP</text>
<text x="72.5" y="61.6" fill="#26a69a" stroke="#26a69a" stroke-width="0.42" textLength="38.7" lengthAdjust="spacingAndGlyphs">175.8 M</text>
</g>
<g fill="#e1e1e1">
<polygon points="11.25,778.5 23.75,778.5 23.75,793.75 16.9,793.75 16.9,784.6 11.25,784.6"/>
<circle cx="28.5" cy="781.4" r="2.8"/>
<polygon points="33.6,778.5 41,778.5 35.1,793.75 27.7,793.75"/>
<text x="48.1" y="793.75" font-size="21.3" font-weight="bold" stroke="#e1e1e1" stroke-width="0.6" stroke-linejoin="round" textLength="118" lengthAdjust="spacingAndGlyphs">TradingView</text>
</g>
</svg>
</body></html>
